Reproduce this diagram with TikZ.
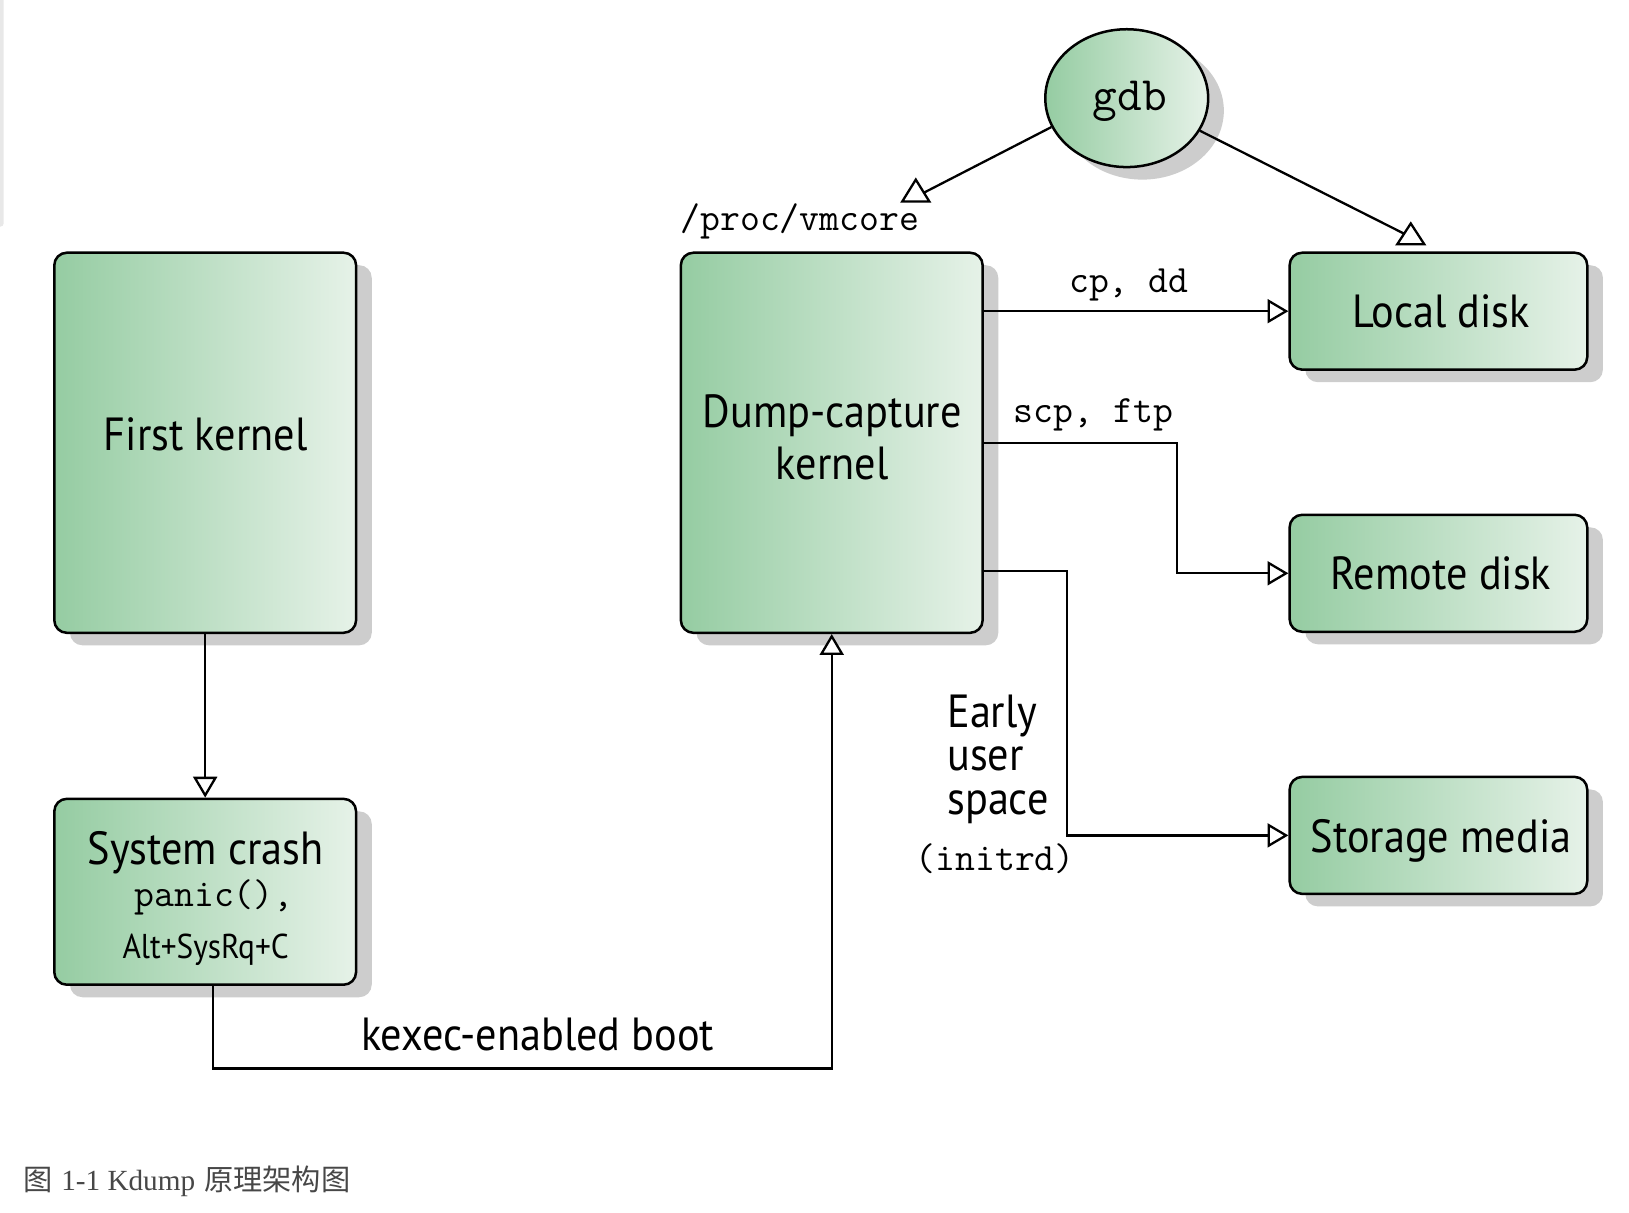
\documentclass[tikz,border=0pt]{standalone}
\usepackage{fontspec}
\newfontfamily\boxfont[FakeStretch=0.91]{PT Sans}
\newfontfamily\cjkfont{Noto Sans CJK SC}
\newfontfamily\capserif{Liberation Serif}
\usetikzlibrary{arrows.meta,shadows,shapes.geometric}
\definecolor{gL}{HTML}{95CCA2}
\definecolor{gR}{HTML}{E6F2E8}
\definecolor{shd}{HTML}{CDCDCD}
\begin{document}
\begin{tikzpicture}[x=1pt,y=-1pt,
  box/.style={draw=black, line width=2.4pt, rounded corners=12pt, left color=gL, right color=gR,
    drop shadow={shadow xshift=15pt, shadow yshift=-12pt, fill=shd, opacity=1}, inner sep=0pt},
  lbl/.style={font=\boxfont\fontsize{44.5}{50}\selectfont, inner sep=0pt, anchor=base},
  small/.style={font=\boxfont\fontsize{33}{36}\selectfont, inner sep=0pt, anchor=base},
  mono/.style={font=\ttfamily\fontsize{37}{40}\selectfont, inner sep=0pt, anchor=base},
  conn/.style={line width=2.2pt},
  tip/.style={-{Triangle[length=20pt,width=23pt,fill=white]}},
  tri/.style={line width=2.2pt, fill=white, line join=miter}]
\useasboundingbox (0,0) rectangle (1560,1161);
\fill[black!9, rounded corners=3pt] (-6,-10) rectangle (3.5,217);
% boxes
\node[box, minimum width=289pt, minimum height=364pt] (first) at (196.5,424) {};
\node[box, minimum width=289pt, minimum height=178pt] (crash) at (196.5,854) {};
\node[box, minimum width=289pt, minimum height=364pt] (dump) at (796.5,424) {};
\node[box, minimum width=285pt, minimum height=112pt] (local) at (1377.5,298) {};
\node[box, minimum width=285pt, minimum height=112pt] (remote) at (1377.5,549) {};
\node[box, minimum width=285pt, minimum height=112pt] (storage) at (1377.5,800) {};
\node[ellipse, draw=black, line width=2.4pt, left color=gL, right color=gR,
  drop shadow={shadow xshift=15pt, shadow yshift=-12pt, fill=shd, opacity=1},
  minimum width=156pt, minimum height=132pt, inner sep=0pt] (gdb) at (1079,94) {};
% texts
\node[lbl] (tfirst) at (197,431) {First kernel};
\node[lbl] (tdump1) at (797,409) {Dump-capture};
\node[lbl] (tdump2) at (797,459) {kernel};
\node[lbl] (tlocal) at (1380,314) {Local disk};
\node[lbl] (tremote) at (1380,565) {Remote disk};
\node[lbl] (tstorage) at (1380,816) {Storage media};
\node[lbl] (tcrash) at (197,828) {System crash};
\node[mono] (tpanic) at (205,868) {panic(),};
\node[small] (tsysrq) at (197,918) {Alt+SysRq+C};
\node[mono, font=\ttfamily\fontsize{46}{50}\selectfont] (tgdb) at (1082,106) {gdb};
\node[mono] (tvm) at (766,221) {/proc/vmcore};
\node[mono] (tcp) at (1081,280) {cp, dd};
\node[mono] (tscp) at (1047,405) {scp, ftp};
\node[mono] (tinit) at (953,834) {(initrd)};
\node[font=\boxfont\fontsize{44.5}{41.5}\selectfont, inner sep=0pt, align=left, anchor=west] (tearly) at (907,727)
  {Early\\user\\space};
\node[lbl] (tkexec) at (515,1006) {kexec-enabled boot};
% connectors
\draw[conn,tip] (first.south) -- (crash.north);
\draw[conn,tip] (dump.east |- local.west) -- (local.west);
\draw[conn,tip] (dump.east |- 0,424) -| ([xshift=-107pt]remote.west) -- (remote.west);
\draw[conn,tip] (dump.east |- 0,547) -| ([xshift=-212pt]storage.west) -- (storage.west);
\draw[conn,tip] ([xshift=7.5pt]crash.south) -- ++(0,79) -| (dump.south);
\coordinate (vtip) at (878,188);
\coordinate (ltip) at (1351,227);
\draw[conn] (gdb.201) -- (vtip);
\draw[tri] (877,172) -- (890,193) -- (864,193) -- cycle;
\draw[conn] (gdb.336) -- (ltip);
\draw[tri] (1351,214) -- (1364,234) -- (1338,234) -- cycle;
% caption
\node[anchor=base west, inner sep=0pt, text=black!72, font=\fontsize{28}{30}\selectfont] (cap) at (22,1140)
  {{\cjkfont 图} {\capserif 1-1 Kdump} {\cjkfont 原理架构图}};
\end{tikzpicture}
\end{document}
